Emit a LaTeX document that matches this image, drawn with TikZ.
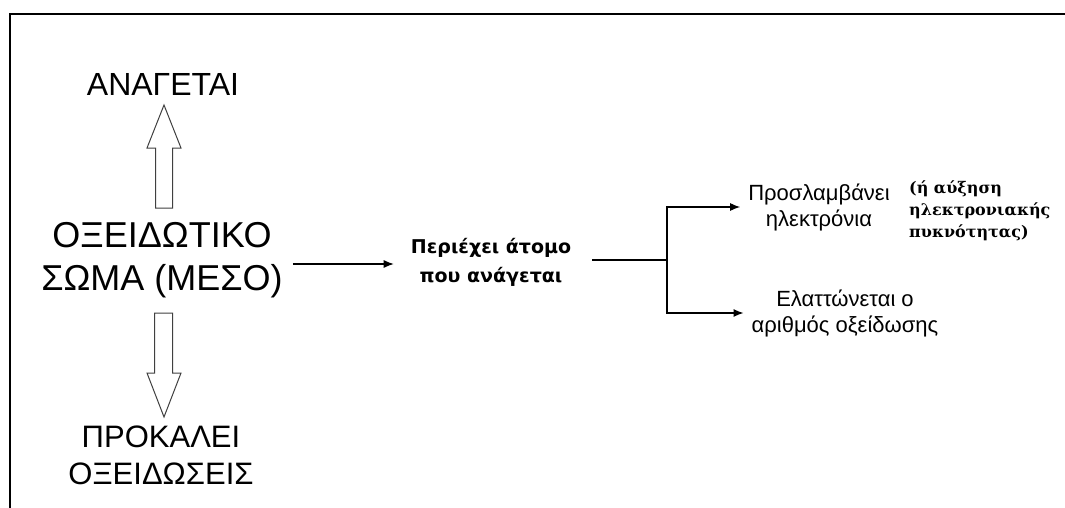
\documentclass[tikz,border=0pt]{standalone}
\usepackage{fontspec}
\setmainfont{Liberation Sans}
\newfontfamily\boldsans{DejaVu Sans}
\newfontfamily\boldserif{DejaVu Serif}
\usetikzlibrary{arrows.meta}

\tikzset{
  bigtxt/.style={align=center,inner sep=0pt,font=\fontsize{33}{43}\selectfont},
  smalltxt/.style={align=center,inner xsep=8pt,inner ysep=0pt,font=\fontsize{22}{26}\selectfont},
  arr/.style={-{Latex[length=10pt,width=8pt]},line width=1.1pt},
  hollow/.style={draw=black!75,line width=1pt,fill=white}
}

\begin{document}
\begin{tikzpicture}[x=1pt,y=-1pt]
      \useasboundingbox (0,0) rectangle (1065,508);
      % frame
      \draw[line width=1.6pt] (10,508) -- (10,14) -- (1065,14);
      % left column
      \node[bigtxt,font=\fontsize{32}{37}\selectfont] (reduced) at (163,84) {ΑΝΑΓΕΤΑΙ};
      \node[bigtxt,font=\fontsize{36}{43}\selectfont,inner xsep=10pt] (agent) at (162,260) {ΟΞΕΙΔΩΤΙΚΟ\\ΣΩΜΑ (ΜΕΣΟ)};
      \node[bigtxt,font=\fontsize{31}{37}\selectfont] (causes) at (161,455) {ΠΡΟΚΑΛΕΙ\\ΟΞΕΙΔΩΣΕΙΣ};
      \draw[hollow] (155.5,208) -- (155.5,148) -- (147,148) -- (164,105) -- (181,148) -- (172.5,148) -- (172.5,208) -- cycle;
      \draw[hollow] (154.5,313) -- (154.5,373) -- (147,373) -- (164,417) -- (181,373) -- (172.5,373) -- (172.5,313) -- cycle;
      % middle
      \node[align=center,inner xsep=17pt,font=\boldsans\bfseries\fontsize{19}{29}\selectfont] (atom) at (491,262) {Περιέχει άτομο\\που ανάγεται};
      \draw[arr] (agent.east |- 0,264) -- (atom.west |- 0,264);
      \coordinate (split) at (667,260);
      \draw[line width=1.1pt] ([xshift=4pt]atom.east |- split) -- (split);
      % right
      \node[smalltxt] (gain) at (819,207) {Προσλαμβάνει\\ηλεκτρόνια};
      \node[smalltxt] (ox) at (845,313) {Ελαττώνεται ο\\αριθμός οξείδωσης};
      \node[anchor=west,align=left,inner sep=0pt,font=\boldserif\bfseries\fontsize{16}{22}\selectfont] (dens) at (909,211) {(ή αύξηση\\ηλεκτρονιακής\\πυκνότητας)};
      \draw[arr] (split) |- (gain.west);
      \draw[arr] (split) |- (ox.west);
    \end{tikzpicture}
\end{document}
